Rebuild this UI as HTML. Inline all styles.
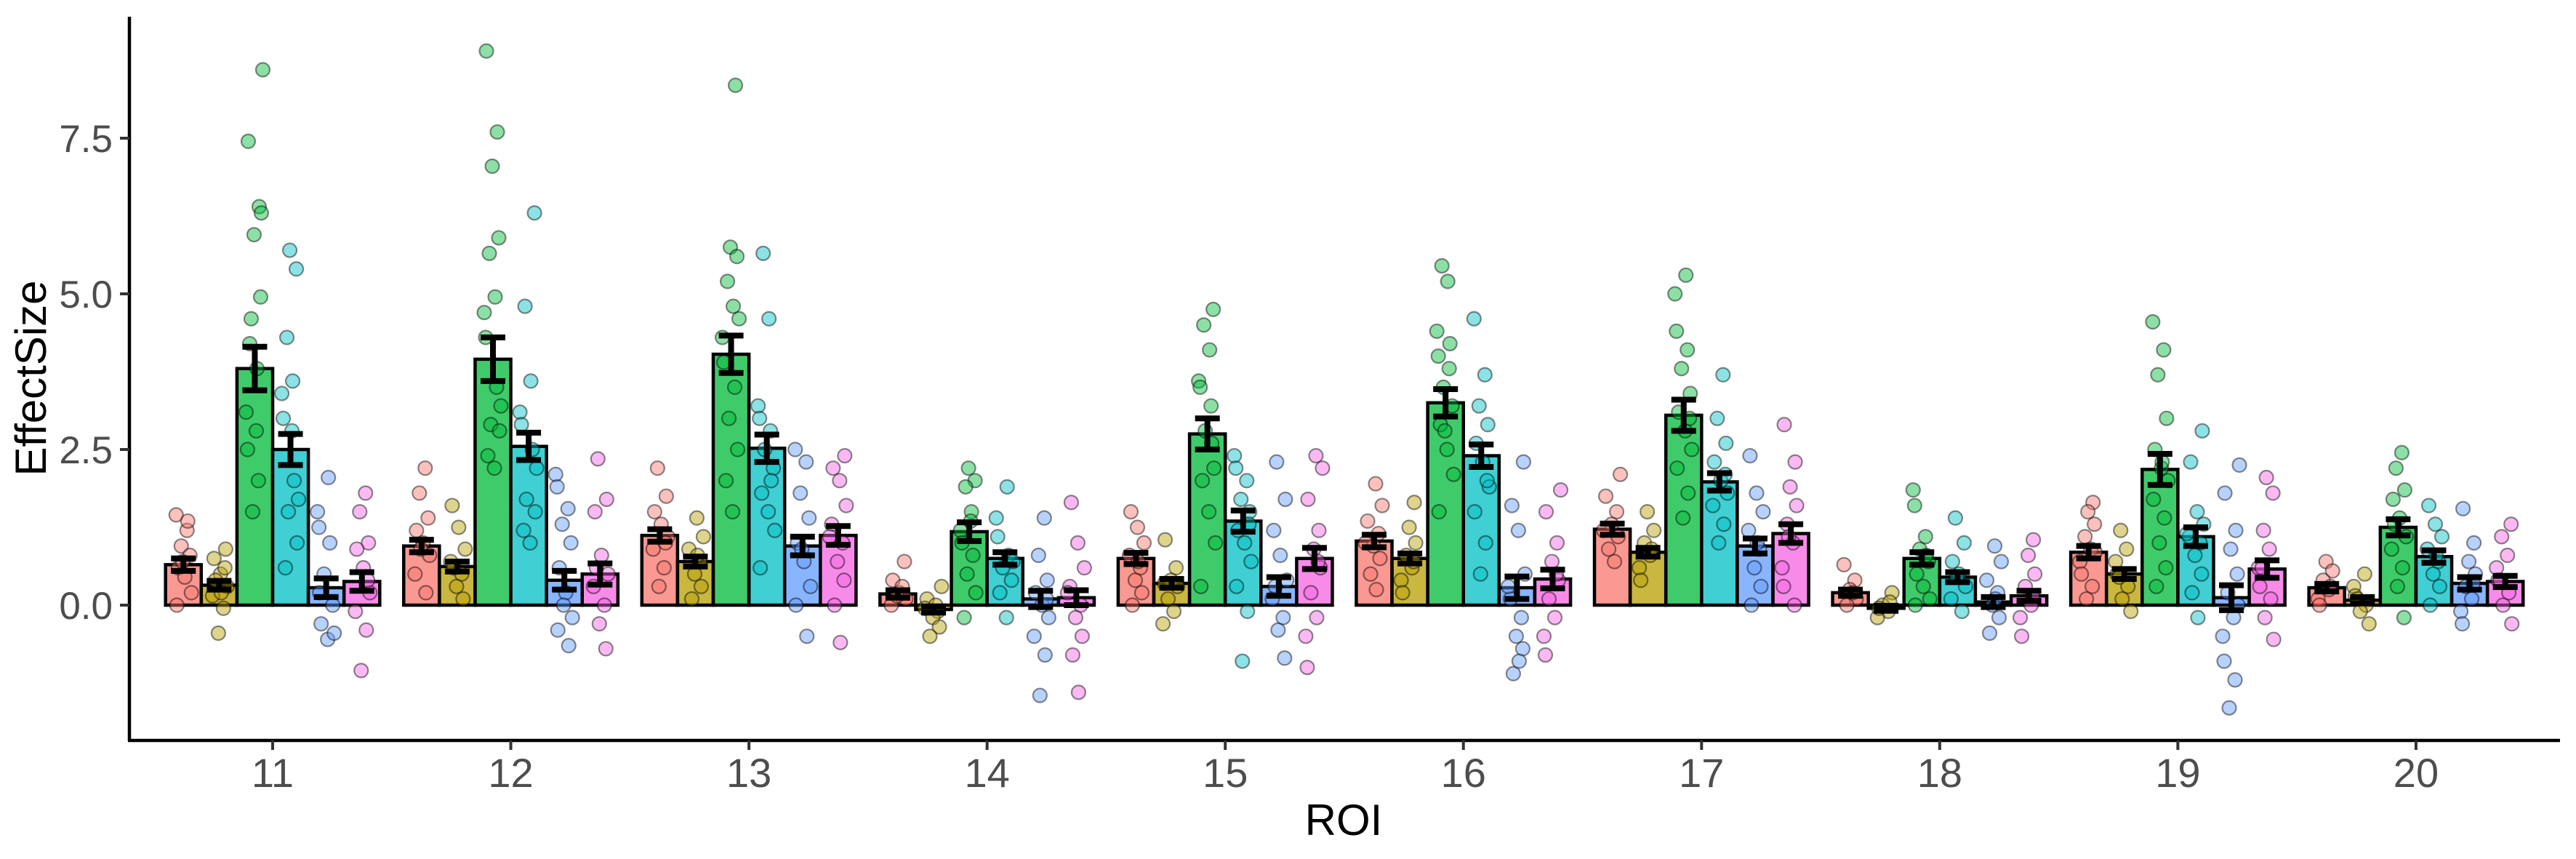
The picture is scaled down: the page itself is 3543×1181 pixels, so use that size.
<!DOCTYPE html>
<html><head><meta charset="utf-8"><style>
html,body{margin:0;padding:0;background:#fff}
svg{display:block}
text{font-family:"Liberation Sans",Arial,sans-serif}
</style></head><body>
<svg id="chart" width="3543" height="1181" viewBox="0 0 3543 1181" xmlns="http://www.w3.org/2000/svg">
<rect width="3543" height="1181" fill="#fff"/>
<g id="bars"></g>
<g id="points"></g>
<g id="errs"></g>
<g id="axes"></g>
</svg>
<script>
const categories = ["11","12","13","14","15","16","17","18","19","20"];
const groupColors = ["#F8766D","#B79F00","#00BA38","#00BFC4","#619CFF","#F564E3"];
const yTicks = [0, 2.5, 5, 7.5];
const yTickLabels = ["0.0","2.5","5.0","7.5"];
const means = [
 [0.65,0.32,3.8,2.5,0.28,0.38],
 [0.95,0.62,3.95,2.55,0.4,0.5],
 [1.12,0.7,4.03,2.52,0.95,1.12],
 [0.18,-0.07,1.18,0.75,0.1,0.12],
 [0.75,0.35,2.75,1.35,0.3,0.75],
 [1.03,0.75,3.25,2.4,0.28,0.42],
 [1.22,0.85,3.05,1.98,0.95,1.15],
 [0.2,-0.05,0.75,0.45,0.05,0.15],
 [0.85,0.5,2.18,1.1,0.12,0.58],
 [0.28,0.08,1.25,0.78,0.35,0.38]
];
const ses = [
 [0.1,0.07,0.35,0.25,0.15,0.15],
 [0.1,0.08,0.35,0.22,0.15,0.17],
 [0.1,0.08,0.3,0.22,0.15,0.15],
 [0.06,0.05,0.15,0.1,0.13,0.12],
 [0.09,0.07,0.25,0.17,0.15,0.17],
 [0.1,0.08,0.22,0.18,0.18,0.15],
 [0.09,0.07,0.25,0.14,0.12,0.15],
 [0.05,0.04,0.1,0.08,0.08,0.08],
 [0.1,0.08,0.25,0.15,0.2,0.14],
 [0.06,0.05,0.13,0.1,0.1,0.09]
];
const points = [
 [[1.45,1.2,0.95,0.8,0.6,0.45,0.2,0.0,1.35,0.7],[0.9,0.75,0.5,0.3,0.15,-0.05,-0.45,0.6,0.4,0.2],[8.6,7.45,6.4,5.95,4.95,4.6,3.8,3.1,2.5,2.0,1.5,6.3,4.2,2.8],[5.7,5.4,4.3,3.6,3.4,3.0,2.0,1.5,1.0,0.6,2.8,1.7],[2.05,1.5,1.25,1.0,0.5,0.0,-0.3,-0.55,-0.45,0.2],[1.8,1.5,1.0,0.9,0.6,0.2,-0.1,-0.4,-1.05,0.4]],
 [[2.2,1.8,1.4,1.2,1.0,0.8,0.5,0.2,0.9],[1.6,1.25,0.9,0.7,0.5,0.3,0.1,0.6],[8.9,7.6,7.05,5.9,5.65,4.95,4.7,4.3,3.5,2.9,2.8,2.4,2.2,3.2],[6.3,4.8,3.6,3.1,2.9,2.5,1.7,1.5,1.2,1.0,2.2],[2.1,1.9,1.55,1.3,1.0,0.6,0.2,-0.2,-0.4,-0.65,0.0],[2.35,1.7,1.5,0.8,0.5,0.3,0.0,-0.3,-0.7,0.6]],
 [[2.2,1.75,1.5,1.3,1.1,0.9,0.6,0.3,1.0],[1.4,1.1,0.9,0.7,0.5,0.3,0.1,0.8],[8.35,5.75,5.6,5.2,4.8,4.3,3.9,3.5,3.0,2.5,2.0,1.5,4.6],[5.65,4.6,3.2,3.0,2.8,2.5,2.2,1.8,1.5,1.2,0.6,2.0],[2.5,2.3,1.8,1.4,1.0,0.7,0.3,0.0,-0.5,0.9],[2.4,2.2,2.0,1.6,1.3,1.0,0.7,0.4,0.0,-0.6,1.1]],
 [[0.7,0.4,0.2,0.1,0.0,0.3,0.15],[0.3,0.1,-0.1,-0.2,-0.35,-0.5,0.0,-0.05],[2.2,2.0,1.9,1.5,1.2,1.0,0.8,0.5,0.2,-0.2,1.35],[1.9,1.4,1.1,0.8,0.6,0.4,0.2,-0.2,0.7],[1.4,0.8,0.4,0.2,0.0,-0.2,-0.5,-0.8,-1.45,0.1],[1.65,1.0,0.6,0.3,0.0,-0.2,-0.5,-0.8,-1.4,0.2]],
 [[1.5,1.25,1.0,0.8,0.6,0.4,0.2,0.0,0.7],[1.05,0.6,0.4,0.3,0.1,-0.1,-0.3,0.35],[4.75,4.5,4.1,3.6,3.5,3.2,2.8,2.2,2.0,1.5,1.0,0.3,2.6],[2.4,2.2,2.0,1.7,1.5,1.2,1.0,0.7,0.3,-0.1,-0.9,1.3],[2.3,1.7,1.2,0.8,0.4,0.1,-0.2,-0.4,-0.85,0.3],[2.4,2.2,1.7,1.2,0.9,0.6,0.2,-0.2,-0.5,-1.0,0.7]],
 [[1.95,1.6,1.35,1.15,0.95,0.75,0.5,0.25,1.0],[1.65,1.25,1.0,0.8,0.6,0.4,0.2,0.7],[5.45,5.2,4.4,4.0,3.8,3.5,3.2,2.9,2.5,2.1,1.5,4.2,2.8],[4.6,3.7,3.2,2.9,2.6,2.3,1.9,1.5,1.0,0.5,2.0],[2.3,1.6,1.2,0.5,0.1,-0.2,-0.5,-0.7,-1.1,-0.9,0.3],[1.85,1.5,1.0,0.7,0.4,0.1,-0.2,-0.5,-0.8,0.5]],
 [[2.1,1.75,1.5,1.3,1.1,0.9,0.7,1.2],[1.5,1.2,1.0,0.8,0.6,0.4,0.9],[5.3,5.0,4.4,4.1,3.8,3.4,3.1,2.8,2.5,2.2,1.8,1.4,3.0],[3.7,3.0,2.6,2.3,2.0,1.8,1.6,1.3,1.0,2.1],[2.4,1.8,1.5,1.2,0.9,0.6,0.3,0.0,1.0],[2.9,2.3,1.9,1.6,1.3,1.0,0.6,0.3,0.0,1.1]],
 [[0.65,0.4,0.25,0.1,0.0,0.2],[0.2,0.0,-0.1,-0.2,-0.05,0.05],[1.85,1.6,1.1,0.9,0.7,0.5,0.3,0.1,0.0,0.8],[1.4,1.0,0.7,0.5,0.3,0.1,-0.1,0.45],[0.95,0.7,0.4,0.2,0.0,-0.2,-0.45,0.1],[1.05,0.8,0.5,0.3,0.0,-0.2,-0.5,0.15]],
 [[1.65,1.5,1.3,1.1,0.9,0.7,0.5,0.3,0.1,0.85],[1.2,0.9,0.7,0.5,0.3,0.1,-0.1,0.45],[4.55,4.1,3.7,3.0,2.5,2.2,2.0,1.7,1.4,1.0,0.6,0.3,2.3],[2.8,2.3,1.5,1.3,1.1,1.0,0.8,0.5,0.2,-0.2,1.15],[2.25,1.8,1.2,0.9,0.5,0.2,-0.2,-0.5,-0.9,-1.2,-1.65,0.0],[2.05,1.8,1.2,0.9,0.6,0.3,0.1,-0.2,-0.55,0.6]],
 [[0.7,0.55,0.4,0.25,0.1,0.0,0.3],[0.5,0.3,0.15,0.0,-0.1,-0.3,0.1],[2.45,2.2,1.85,1.7,1.4,1.1,0.9,0.6,0.3,-0.2,1.3],[1.6,1.3,1.1,0.9,0.7,0.5,0.3,0.0,0.8],[1.55,1.0,0.7,0.5,0.3,0.1,-0.1,-0.3,0.35],[1.3,1.1,0.8,0.6,0.4,0.2,0.0,-0.3,0.4]]
];

const NS="http://www.w3.org/2000/svg";
const X0=375, DX=327.55, BW=49.1, NG=6;
const Y0=832, PPU=85.6;
const yScale=v=>Y0-v*PPU;
const xCat=i=>X0+i*DX;
const xBar=(i,g)=>xCat(i)+(g-(NG-1)/2)*BW;
const jit=[-10,5,-3,9,-7,2,11,-9,6,-1,8,-5,3,-12];
function mk(tag,attrs,parent){const e=document.createElementNS(NS,tag);for(const k in attrs)e.setAttribute(k,attrs[k]);parent.appendChild(e);return e;}

const bars=document.getElementById('bars'),pts=document.getElementById('points'),errs=document.getElementById('errs'),axes=document.getElementById('axes');
categories.forEach((c,i)=>{
  for(let g=0;g<NG;g++){
    const m=means[i][g], cx=xBar(i,g);
    const y1=yScale(Math.max(m,0)), y2=yScale(Math.min(m,0));
    const r=mk('rect',{x:cx-BW/2,y:y1,width:BW,height:Math.max(y2-y1,0.5),fill:groupColors[g],'fill-opacity':0.75,stroke:'#000','stroke-width':4.5},bars);
    
    
    points[i][g].forEach((v,k)=>{
      const p=mk('circle',{cx:cx+jit[(k+g*3+i)%jit.length],cy:yScale(v),r:9.5,fill:groupColors[g],'fill-opacity':0.45,stroke:'#000','stroke-opacity':0.45,'stroke-width':2.2},pts);
      
      
    });
    const s=ses[i][g], yt=yScale(m+s), yb=yScale(m-s);
    const eg=mk('g',{},errs);
    
    
    mk('line',{x1:cx,x2:cx,y1:yt,y2:yb,stroke:'#000','stroke-width':8},eg);
    mk('line',{x1:cx-17,x2:cx+17,y1:yt,y2:yt,stroke:'#000','stroke-width':8},eg);
    mk('line',{x1:cx-17,x2:cx+17,y1:yb,y2:yb,stroke:'#000','stroke-width':8},eg);
  }
});
const ya=mk('line',{x1:178,x2:178,y1:23,y2:1019,stroke:'#000','stroke-width':4.5},axes);

const xa=mk('line',{x1:176,x2:3521,y1:1018,y2:1018,stroke:'#000','stroke-width':4.5},axes);

yTicks.forEach((v,k)=>{
  const y=yScale(v);
  const t=mk('line',{x1:165,x2:178,y1:y,y2:y,stroke:'#333','stroke-width':4},axes);
  
  const l=mk('text',{x:155,y:y+19,'text-anchor':'end','font-size':53,fill:'#4D4D4D'},axes);
  l.textContent=yTickLabels[k];
  
});
categories.forEach((c,i)=>{
  const x=xCat(i);
  const t=mk('line',{x1:x,x2:x,y1:1018,y2:1031,stroke:'#333','stroke-width':4},axes);
  
  const l=mk('text',{x:x,y:1082,'text-anchor':'middle','font-size':56,fill:'#4D4D4D'},axes);
  l.textContent=c;
  
});
const xt=mk('text',{x:1848,y:1148,'text-anchor':'middle','font-size':60,fill:'#000'},axes);
xt.textContent='ROI';

const ytl=mk('text',{x:0,y:0,'text-anchor':'middle','font-size':60,fill:'#000',transform:'translate(63,520) rotate(-90)'},axes);
ytl.textContent='EffectSize';

</script>
</body></html>
